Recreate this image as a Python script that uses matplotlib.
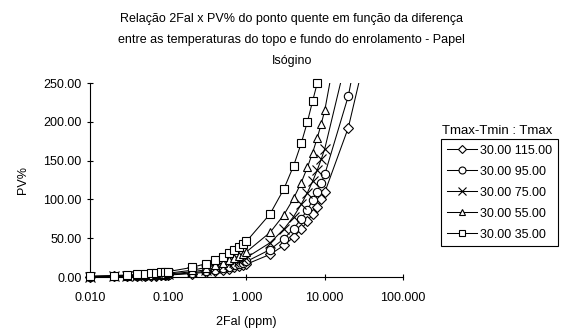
import matplotlib
matplotlib.use("Agg")
import matplotlib.pyplot as plt
from matplotlib.lines import Line2D
from matplotlib.ticker import FormatStrFormatter, FixedLocator

plt.rcParams['font.family'] = ['Liberation Sans', 'DejaVu Sans']

# 2Fal (ppm) values shared by all series
fal = [0.01, 0.02, 0.03, 0.04, 0.05, 0.06, 0.07, 0.08, 0.09,
       0.1, 0.2, 0.3, 0.4, 0.5, 0.6, 0.7, 0.8, 0.9,
       1, 2, 3, 4, 5, 6, 7, 8, 9, 10, 20, 30]

# PV%, one list per series
pv_115 = [0.4, 0.7, 0.9, 1.2, 1.4, 1.6, 1.9, 2.1, 2.3,
          2.5, 4.4, 6.1, 7.8, 9.3, 10.9, 12.3, 13.7, 15.1,
          16.5, 29.1, 40.6, 51.4, 61.7, 71.7, 81.4, 90.8, 100.0, 109.0, 192.4, 268.0]
pv_95 = [0.5, 0.8, 1.1, 1.4, 1.7, 2.0, 2.3, 2.5, 2.8,
         3.0, 5.3, 7.5, 9.4, 11.3, 13.2, 14.9, 16.7, 18.3,
         20.0, 35.3, 49.2, 62.3, 74.8, 86.9, 98.6, 110.0, 121.2, 132.1, 233.2, 325.0]
pv_75 = [0.6, 1.0, 1.4, 1.8, 2.1, 2.5, 2.8, 3.2, 3.5,
         3.8, 6.7, 9.3, 11.8, 14.2, 16.4, 18.7, 20.8, 22.9,
         25.0, 44.1, 61.6, 77.9, 93.6, 108.7, 123.3, 137.6, 151.5, 165.2, 291.5, 406.0]
pv_55 = [0.7, 1.3, 1.8, 2.3, 2.8, 3.2, 3.7, 4.1, 4.5,
         4.9, 8.7, 12.1, 15.3, 18.4, 21.4, 24.3, 27.1, 29.8,
         32.5, 57.4, 80.0, 101.3, 121.6, 141.2, 160.3, 178.8, 197.0, 214.7, 379.0, 528.0]
pv_35 = [1.1, 1.9, 2.6, 3.3, 3.9, 4.6, 5.2, 5.8, 6.4,
         7.0, 12.3, 17.1, 21.7, 26.1, 30.3, 34.3, 38.3, 42.2,
         46.0, 81.2, 113.3, 143.4, 172.1, 199.9, 226.8, 249.5, 276.0, 301.0, 531.0, 740.0]

labels = ['30.00 115.00', '30.00 95.00', '30.00 75.00', '30.00 55.00', '30.00 35.00']
series = [pv_115, pv_95, pv_75, pv_55, pv_35]
markers = ['D', 'o', 'x', '^', 's']
msizes = [4.8, 6, 7, 6, 6]

yticks = [0, 50, 100, 150, 200, 250]
xticks = [0.01, 0.1, 1, 10, 100]

fig = plt.figure(figsize=(5.78, 3.34), dpi=100)
ax = fig.add_axes([90 / 578, 57 / 334, 313 / 578, 194 / 334])

handles = []
for ys, m, ms, lab in zip(series, markers, msizes, labels):
    ax.plot(fal, ys, color='black', lw=0.75, zorder=2)
    xs_in = [x for x, y in zip(fal, ys) if y <= 250]
    ys_in = [y for y in ys if y <= 250]
    ax.plot(xs_in, ys_in, ls='none', marker=m, ms=ms, mfc='white',
            mec='black', mew=0.8, clip_on=False, zorder=3)
    handles.append(Line2D([], [], color='black', lw=0.75, marker=m, ms=ms - 1,
                          mfc='white', mec='black', mew=0.8))

ax.set_xscale('log')
ax.set_xlim(0.01, 100)
ax.set_ylim(0, 250)
ax.xaxis.set_major_locator(FixedLocator(xticks))
ax.xaxis.set_minor_locator(FixedLocator([]))
ax.xaxis.set_major_formatter(FormatStrFormatter('%.3f'))
ax.set_yticks(yticks)
ax.yaxis.set_major_formatter(FormatStrFormatter('%.2f'))

for s in ['top', 'right']:
    ax.spines[s].set_visible(False)
for s in ['left', 'bottom']:
    ax.spines[s].set_linewidth(0.8)
ax.tick_params(axis='both', direction='inout', length=5, width=0.8, labelsize=9)
ax.tick_params(axis='x', pad=8)

ax.set_xlabel('2Fal (ppm)', fontsize=9, labelpad=9)
ax.set_ylabel('PV%', fontsize=9, labelpad=10)

fig.text(0.505, 0.962, 'Relação 2Fal x PV% do ponto quente em função da diferença\n'
         'entre as temperaturas do topo e fundo do enrolamento - Papel\nIsógino',
         ha='center', va='top', fontsize=9, linespacing=2.0)

fig.text(497 / 578, 1 - 131 / 334, 'Tmax-Tmin : Tmax', ha='center', va='center', fontsize=9.5)
leg = fig.legend(handles, labels, loc='upper left', bbox_to_anchor=(441 / 578, 1 - 139 / 334),
                 bbox_transform=fig.transFigure, borderaxespad=0, fontsize=9,
                 handlelength=2.4, handletextpad=0.25, labelspacing=0.72,
                 borderpad=0.45, fancybox=False, framealpha=1)
leg.get_frame().set_edgecolor('black')
leg.get_frame().set_linewidth(0.8)

fig.savefig('out.png', dpi=100)
